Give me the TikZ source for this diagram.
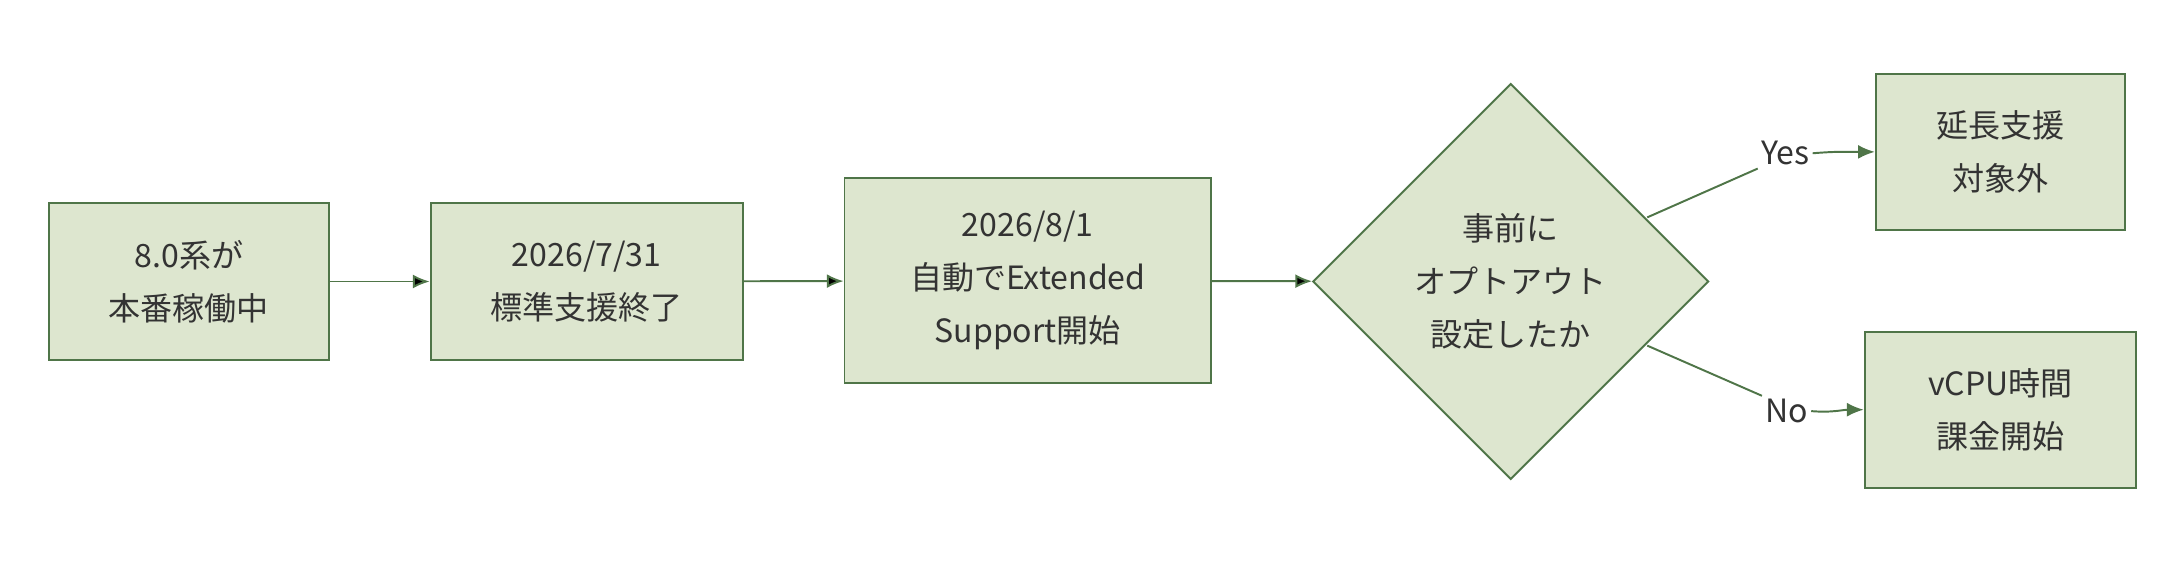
\documentclass[tikz,border=0pt]{standalone}
\usepackage{fontspec}
\setmainfont{Noto Sans CJK JP}
\usetikzlibrary{shapes.geometric,arrows.meta,positioning}
\definecolor{boxfill}{HTML}{DDE6CF}
\definecolor{boxline}{HTML}{4F7548}
\definecolor{txt}{HTML}{333333}
\begin{document}
\begin{tikzpicture}[x=0.5pt,y=-0.5pt,
  every node/.style={text=txt,font=\fontsize{11.5}{19}\selectfont,align=center},
  stage/.style={draw=boxline,fill=boxfill,line width=0.7pt,inner sep=0pt},
  flow/.style={draw=boxline,line width=0.7pt,-{Latex[length=6pt,width=5pt]}}]
\useasboundingbox (0,0) rectangle (1560,405);
\node[stage,minimum width=100.5pt,minimum height=56pt] (m-1) at (135.5,202) {8.0系が\\本番稼働中};
\node[stage,minimum width=112pt,minimum height=56pt] (m-2) at (421,202) {2026/7/31\\標準支援終了};
\node[stage,minimum width=131.5pt,minimum height=73.5pt] (m-3) at (737.5,201.5) {2026/8/1\\自動でExtended\\Support開始};
\node[stage,shape=diamond,aspect=1,minimum width=142pt,minimum height=142pt] (q) at (1084,202) {事前に\\オプトアウト\\設定したか};
\node[stage,minimum width=89.5pt,minimum height=56pt] (yes) at (1435.5,109) {延長支援\\対象外};
\node[stage,minimum width=97.5pt,minimum height=56pt] (no) at (1435.5,294) {vCPU時間\\課金開始};
\node[inner sep=1pt] (l-yes) at (1281,110) {Yes};
\node[inner sep=1pt] (l-no) at (1282,295) {No};
\path[flow]
(m-1) edge (m-2)
(m-2) edge (m-3)
(m-3) edge (q)
;
\coordinate (q-ne) at (1182,156);
\coordinate (q-se) at (1182,248);
\draw[boxline,line width=0.7pt] (q-ne) -- (l-yes.south west);
\draw[boxline,line width=0.7pt] (q-se) -- (l-no.north west);
\draw[flow] (l-yes.east) to[out=5,in=180] (yes.west);
\draw[flow] (l-no.east) to[out=-5,in=180] (no.west);
\end{tikzpicture}
\end{document}
